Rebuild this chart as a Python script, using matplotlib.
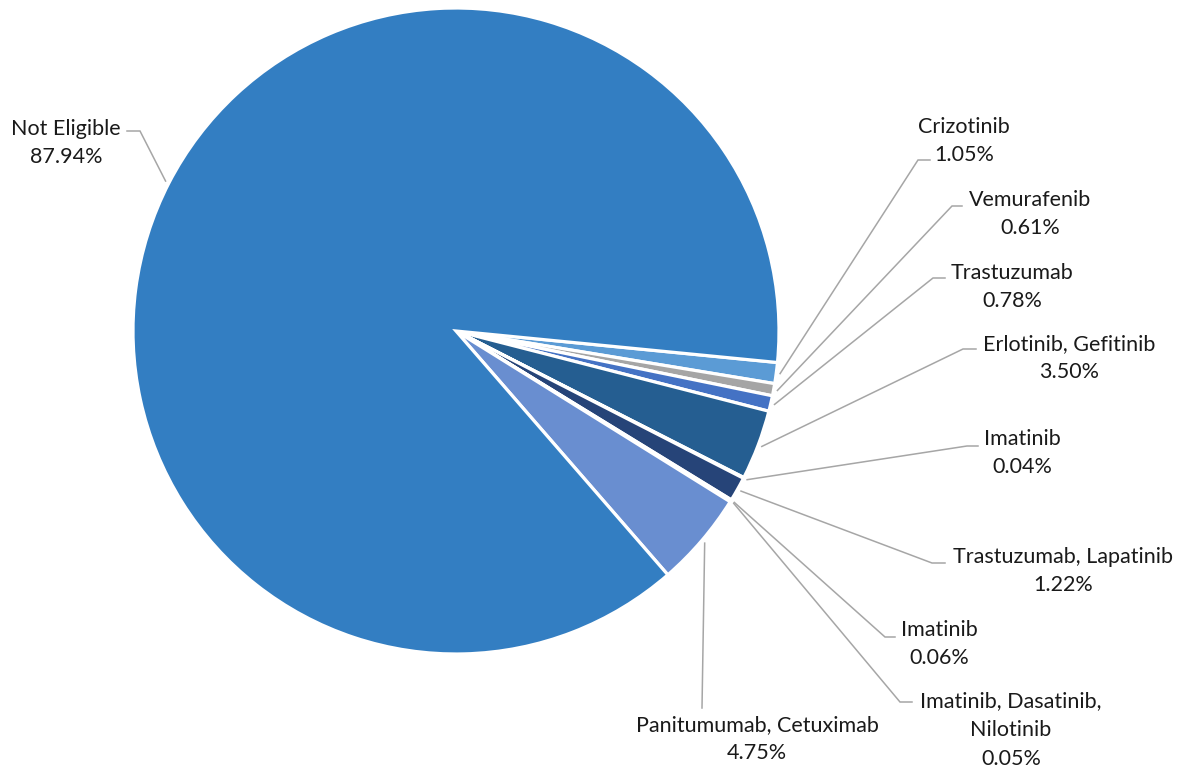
import matplotlib.pyplot as plt
import numpy as np

# Share of patients by eligible targeted therapy
drugs = ['Crizotinib', 'Vemurafenib', 'Trastuzumab', 'Erlotinib, Gefitinib',
         'Imatinib', 'Trastuzumab, Lapatinib', 'Imatinib',
         'Imatinib, Dasatinib,\nNilotinib', 'Panitumumab, Cetuximab',
         'Not Eligible']
shares = [1.05, 0.61, 0.78, 3.50, 0.04, 1.22, 0.06, 0.05, 4.75, 87.94]
colors = ['#5B9BD5', '#A5A5A5', '#4472C4', '#255E91', '#636363',
          '#264478', '#7C7C7C', '#9E9E9E', '#698ED0', '#337EC2']

W, H = 1197, 773
CX, CY, R = 456, 331, 323  # pie centre and radius in pixels

# label centre (px), leader knee (px), leader stub end (px)
label_xy = [(964, 141), (1030, 214), (1012, 287), (1069, 358), (1022, 453),
            (1063, 571), (939, 644), (1011, 730), (757, 739), (66, 143)]
knees = [(918, 160), (952, 206), (933, 278), (963, 349), (967, 446),
         (932, 563), (885, 637), (900, 702), (702, 708), (140, 131)]
stubs = [(930, 160), (962, 206), (945, 278), (976, 349), (978, 446),
         (945, 563), (895, 637), (912, 702), (702, 708), (127, 131)]


def to_data(p):
    return ((p[0] - CX) / R, (CY - p[1]) / R)


plt.rcParams['font.family'] = ['Lato', 'DejaVu Sans']

fig = plt.figure(figsize=(W / 100, H / 100), dpi=100)
ax = fig.add_axes([0, 0, 1, 1])

wedges, _ = ax.pie(shares, colors=colors, startangle=-5.6, counterclock=False,
                   radius=1.0, center=(0, 0),
                   wedgeprops=dict(edgecolor='white', linewidth=2.3))

ax.set_xlim(-CX / R, (W - CX) / R)
ax.set_ylim((CY - H) / R, CY / R)
ax.set_aspect('auto')
ax.axis('off')

for w, name, val, lab, kn, st in zip(wedges, drugs, shares, label_xy, knees, stubs):
    mid = np.deg2rad((w.theta1 + w.theta2) / 2)
    ax_pt = (1.012 * np.cos(mid), 1.012 * np.sin(mid))
    k = to_data(kn)
    s = to_data(st)
    ax.plot([ax_pt[0], k[0], s[0]], [ax_pt[1], k[1], s[1]],
            color='#A6A6A6', lw=1.1, solid_joinstyle='miter')
    tx, ty = to_data(lab)
    ax.text(tx, ty, f'{name}\n{val:.2f}%', ha='center', va='center',
            fontsize=15.5, color='#1a1a1a', linespacing=1.55)

fig.savefig('out.png', dpi=100)
